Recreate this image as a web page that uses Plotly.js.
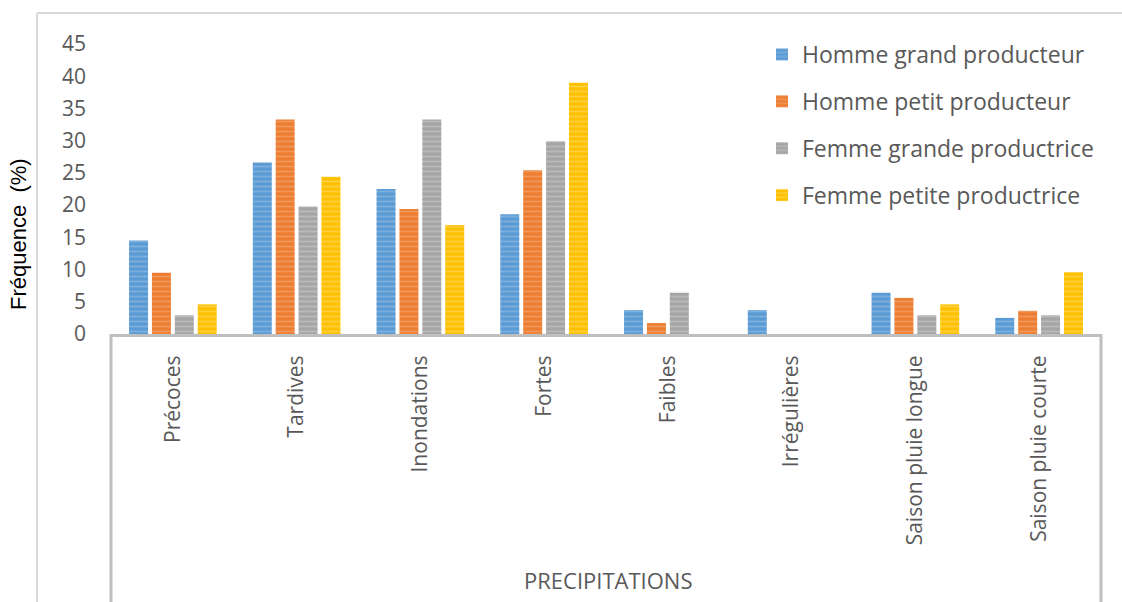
<!DOCTYPE html>
<html>
<head>
<meta charset="utf-8">
<script src="https://cdn.plot.ly/plotly-3.0.1.min.js"></script>
<style>html,body{margin:0;padding:0;background:#fff;}#chart{width:1122px;height:602px;}</style>
</head>
<body>
<div id="chart"></div>
<script>
const categories = ["Précoces", "Tardives", "Inondations", "Fortes", "Faibles", "Irrégulières", "Saison pluie longue", "Saison pluie courte"];
const seriesNames = ["Homme grand producteur", "Homme petit producteur", "Femme grande productrice", "Femme petite productrice"];
const hommeGrand = [14.5, 26.6, 22.5, 18.6, 3.7, 3.7, 6.4, 2.5];
const hommePetit = [9.5, 33.3, 19.4, 25.4, 1.7, 0, 5.6, 3.6];
const femmeGrande = [2.9, 19.8, 33.3, 29.9, 6.4, 0, 2.9, 2.9];
const femmePetite = [4.6, 24.4, 16.9, 39.0, 0, 0, 4.6, 9.6];
const colors = ["#5B9BD5", "#ED7D31", "#A5A5A5", "#FFC000"];
const stripe = ["#9DC3E6", "#F4B183", "#D0D0D0", "#FFE07A"];
const values = [hommeGrand, hommePetit, femmeGrande, femmePetite];

const traces = values.map((v, i) => ({
  type: "bar",
  name: seriesNames[i],
  x: categories,
  y: v,
  legendgroup: "g" + i,
  marker: {
    color: colors[i],
    line: {width: 0},
    pattern: {shape: "-", fgcolor: stripe[i], fillmode: "overlay", size: 5, solidity: 0.35}
  },
  hoverinfo: "x+y+name"
}));

const L = 111, R = 1101, T = 44, B = 334;
const W = R - L, H = B - T;
const px = x => (x - L) / W;
const py = y => (B - y) / H;

const layout = {
  width: 1122, height: 602,
  margin: {l: L, r: 1122 - R, t: T, b: 602 - B, pad: 0},
  paper_bgcolor: "#ffffff",
  plot_bgcolor: "#ffffff",
  barmode: "group",
  bargap: 0.26,
  bargroupgap: 0.17,
  font: {family: "Open Sans, sans-serif", color: "#595959"},
  xaxis: {
    type: "category",
    tickangle: -90,
    tickfont: {size: 21, color: "#595959", family: "Open Sans, sans-serif"},
    showline: true, linecolor: "#BFBFBF", linewidth: 3,
    ticks: "", showgrid: false, zeroline: false,
    ticklabelstandoff: 10
  },
  yaxis: {
    range: [0, 45],
    dtick: 5,
    tickfont: {size: 21, color: "#595959", family: "Open Sans, sans-serif"},
    showgrid: false, zeroline: false, showline: false,
    ticks: "", ticklabelstandoff: 24
  },
  legend: {
    x: px(762), y: py(33), xanchor: "left", yanchor: "top",
    font: {size: 23, color: "#595959", family: "Open Sans, sans-serif"},
    tracegroupgap: 14,
    bgcolor: "rgba(0,0,0,0)"
  },
  showlegend: true,
  shapes: [
    {type: "line", xref: "paper", yref: "paper", x0: px(37), x1: px(1122), y0: py(13), y1: py(13), line: {color: "#D9D9D9", width: 2}},
    {type: "line", xref: "paper", yref: "paper", x0: px(37), x1: px(37), y0: py(13), y1: py(602), line: {color: "#D9D9D9", width: 2}},
    {type: "line", xref: "paper", yref: "paper", x0: 0, x1: 0, y0: 0, y1: py(602), line: {color: "#BFBFBF", width: 3}},
    {type: "line", xref: "paper", yref: "paper", x0: 1, x1: 1, y0: 0, y1: py(602), line: {color: "#BFBFBF", width: 3}}
  ],
  annotations: [
    {text: "Fréquence  (%)", xref: "paper", yref: "paper", x: px(18), y: py(234), textangle: -90, showarrow: false,
     font: {family: "Liberation Sans, Arial, sans-serif", size: 22, color: "#000000"}, xanchor: "center", yanchor: "middle"},
    {text: "PRECIPITATIONS", xref: "paper", yref: "paper", x: px(608), y: py(580), showarrow: false,
     font: {family: "Open Sans, sans-serif", size: 22, color: "#595959"}, xanchor: "center", yanchor: "middle"}
  ]
};

Plotly.newPlot("chart", traces, layout, {displayModeBar: false, staticPlot: true});
</script>
</body>
</html>
